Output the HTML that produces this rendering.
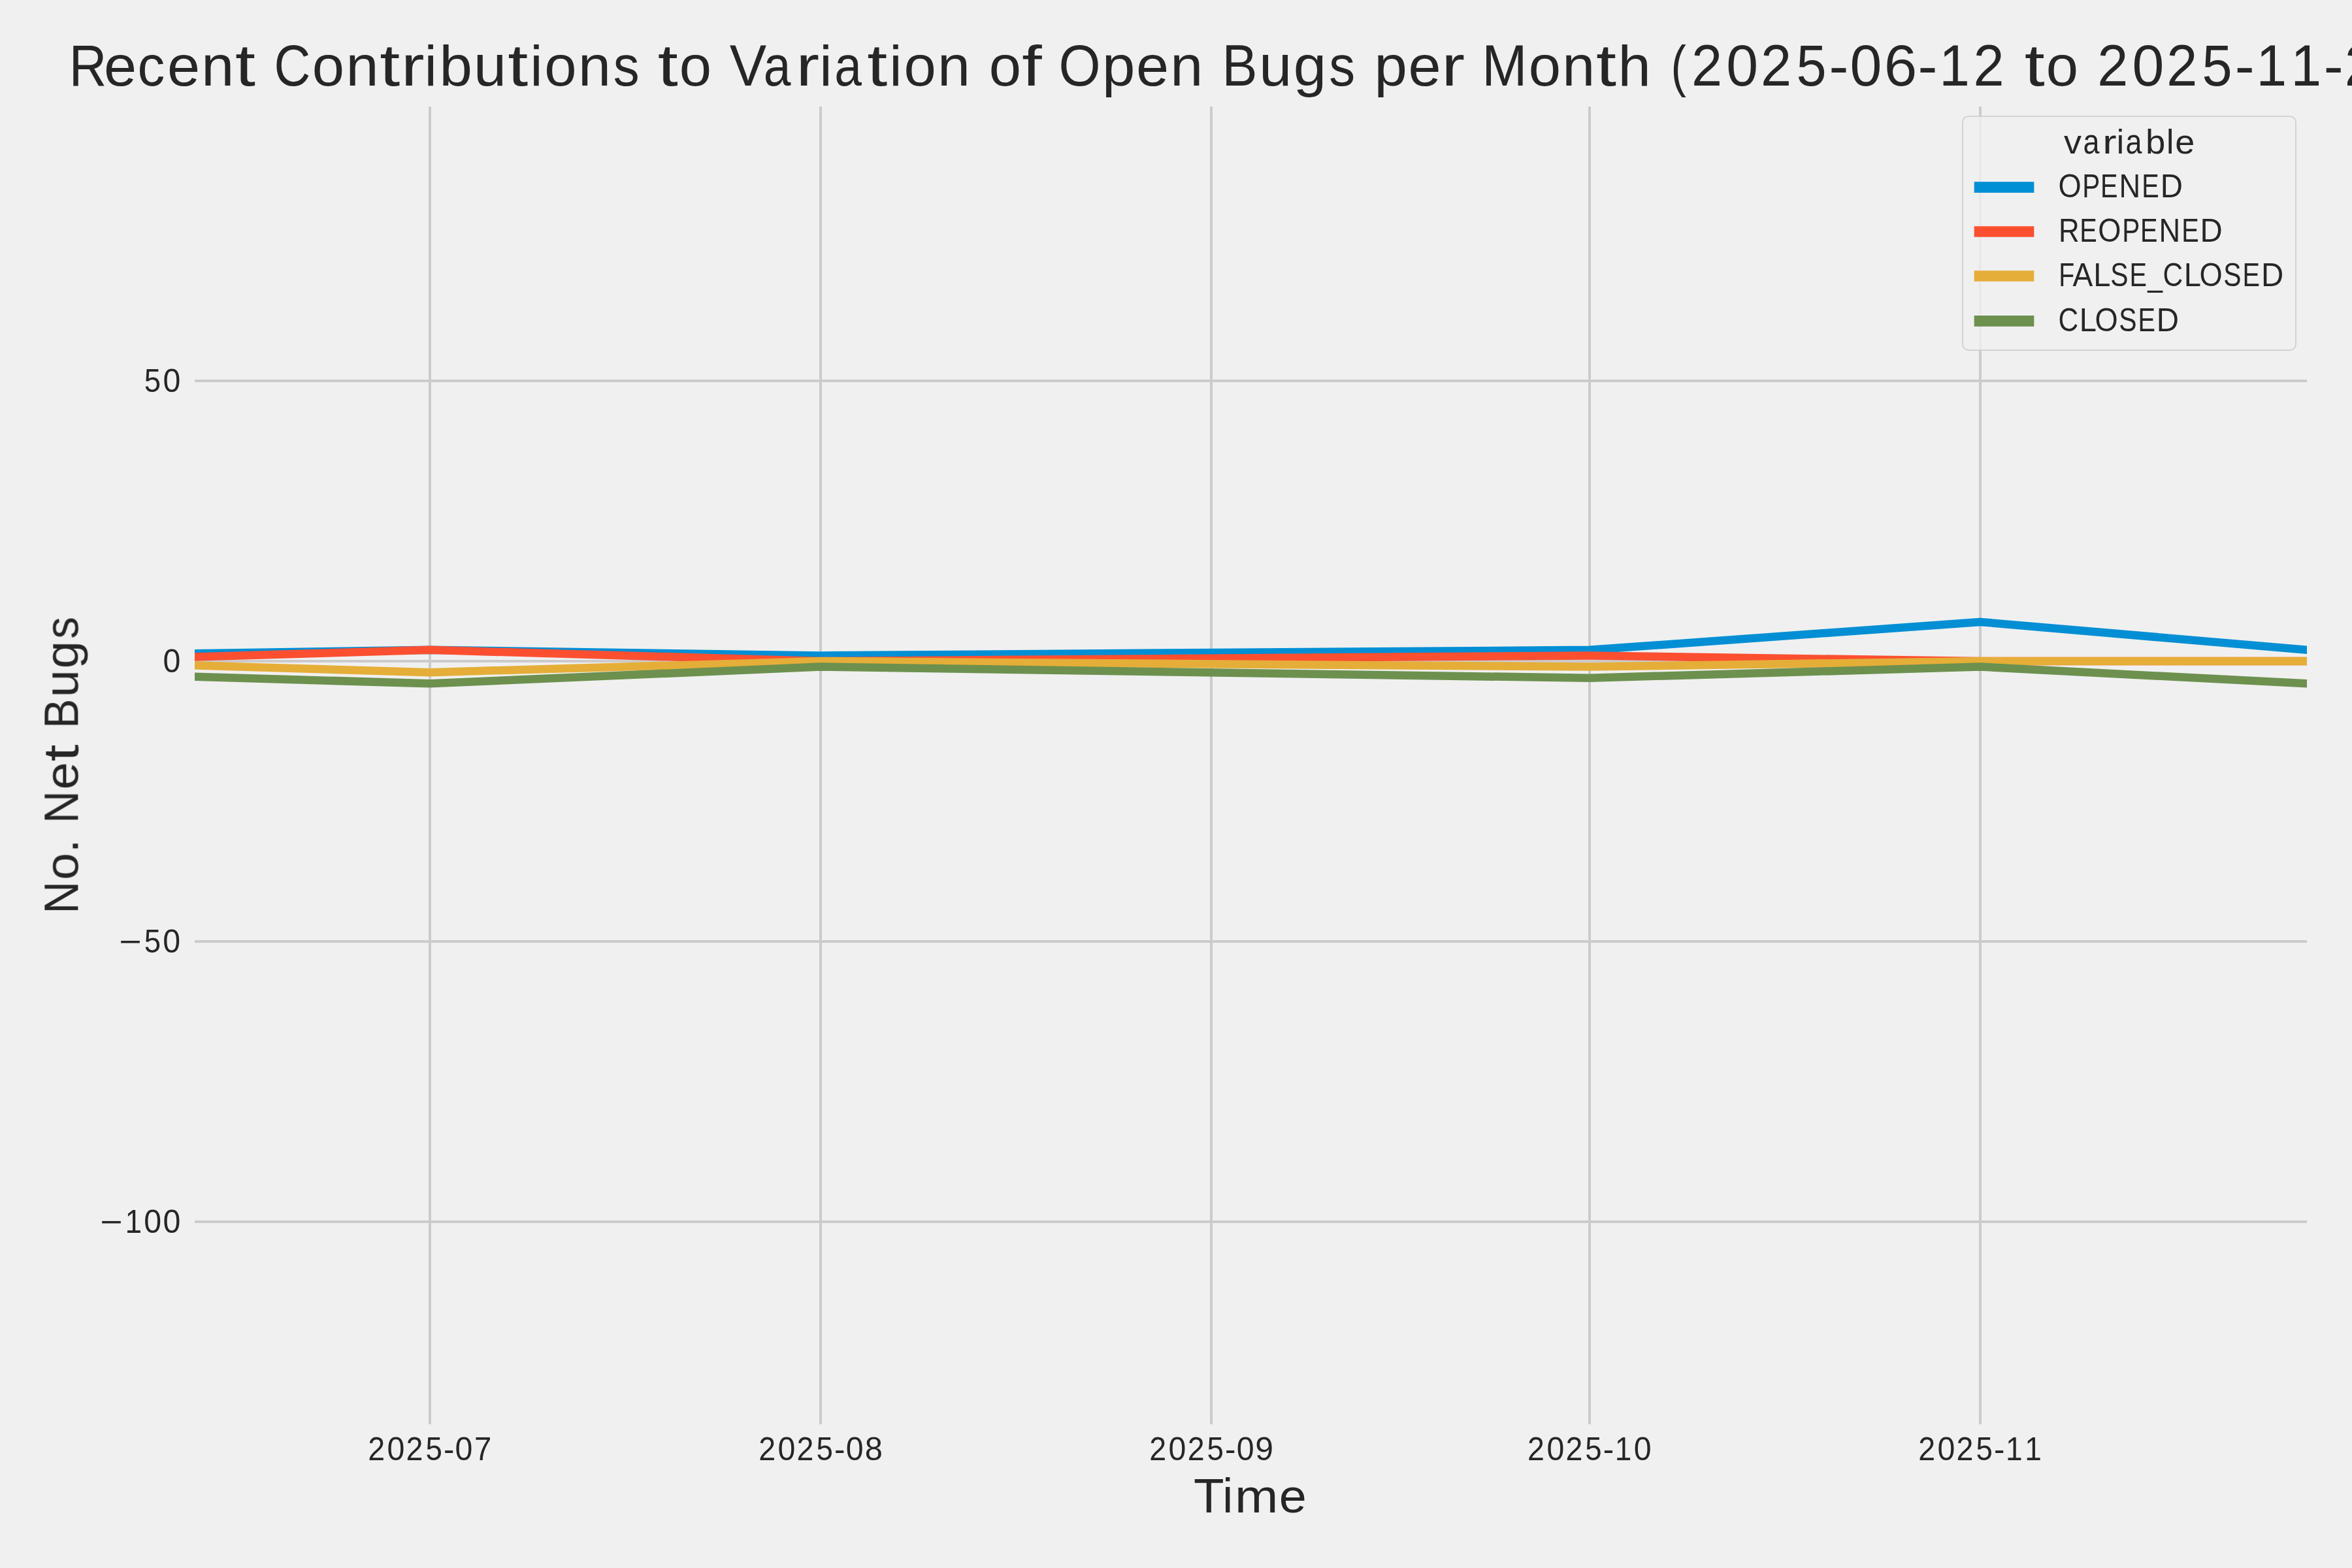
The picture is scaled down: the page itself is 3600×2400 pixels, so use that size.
<!DOCTYPE html>
<html><head><meta charset="utf-8"><title>Recent Contributions to Variation of Open Bugs per Month</title><style>html,body{margin:0;padding:0;background:#f0f0f0;overflow:hidden;width:3600px;height:2400px}svg{display:block}text{will-change:transform}</style></head><body>
<svg width="3600" height="2400" viewBox="0 0 3600 2400"><rect x="0" y="0" width="3600" height="2400" fill="#f0f0f0"/>
<g fill="#cbcbcb"><rect x="656" y="163" width="4" height="2017"/><rect x="1254" y="163" width="4" height="2017"/><rect x="1852" y="163" width="4" height="2017"/><rect x="2431" y="163" width="4" height="2017"/><rect x="3029" y="163" width="4" height="2017"/><rect x="298" y="1868" width="3233" height="4"/><rect x="298" y="1439" width="3233" height="4"/><rect x="298" y="1010" width="3233" height="4"/><rect x="298" y="581" width="3233" height="4"/></g>
<clipPath id="ac"><rect x="298" y="163" width="3233" height="2017"/></clipPath>
<g clip-path="url(#ac)"><polyline points="79.22,1003.42 658.00,994.84 1256.07,1003.42 2432.93,994.84 3031.00,951.94 3531.00,994.84" fill="none" stroke="#008fd5" stroke-width="12.500" stroke-linejoin="round" stroke-linecap="square"/><polyline points="79.22,1012.00 658.00,994.84 1256.07,1012.00 2432.93,1003.42 3031.00,1012.00 3531.00,1012.00" fill="none" stroke="#fc4f30" stroke-width="12.500" stroke-linejoin="round" stroke-linecap="square"/><polyline points="79.22,1012.00 658.00,1029.16 1256.07,1012.00 2432.93,1020.58 3031.00,1012.00 3531.00,1012.00" fill="none" stroke="#e5ae38" stroke-width="12.500" stroke-linejoin="round" stroke-linecap="square"/><polyline points="79.22,1029.16 658.00,1046.32 1256.07,1020.58 2432.93,1037.74 3031.00,1020.58 3531.00,1046.32" fill="none" stroke="#6d904f" stroke-width="12.500" stroke-linejoin="round" stroke-linecap="square"/></g>
<g font-family="'Liberation Sans', sans-serif"><g transform="translate(104.00 131.00)" fill="#262626"><text transform="translate(31.84 0) scale(0.903 1)" x="-33.46" font-size="88.30">R</text><text transform="translate(79.90 0) scale(1.038 1)" x="-24.03" font-size="86.74">e</text><text transform="translate(128.10 0) scale(0.964 1)" x="-22.38" font-size="86.74">c</text><text transform="translate(177.03 0) scale(1.038 1)" x="-24.03" font-size="86.74">e</text><text transform="translate(229.26 0) scale(1.036 1)" x="-24.18" font-size="86.74">n</text><text transform="translate(271.91 0) scale(1.231 1)" x="-12.93" font-size="90.51">t</text><text transform="translate(343.82 0) scale(0.873 1)" x="-32.55" font-size="88.58">C</text><text transform="translate(398.38 0) scale(1.021 1)" x="-24.12" font-size="86.74">o</text><text transform="translate(450.52 0) scale(1.036 1)" x="-24.18" font-size="86.74">n</text><text transform="translate(493.17 0) scale(1.231 1)" x="-12.93" font-size="90.51">t</text><text transform="translate(530.32 0) scale(1.231 1)" x="-16.60" font-size="86.74">r</text><text transform="translate(555.28 0) scale(0.975 1)" x="-9.68" font-size="87.38">i</text><text transform="translate(594.80 0) scale(1.038 1)" x="-25.28" font-size="87.38">b</text><text transform="translate(645.93 0) scale(1.017 1)" x="-24.50" font-size="88.34">u</text><text transform="translate(689.07 0) scale(1.231 1)" x="-12.93" font-size="90.51">t</text><text transform="translate(716.90 0) scale(0.975 1)" x="-9.68" font-size="87.38">i</text><text transform="translate(753.98 0) scale(1.021 1)" x="-24.12" font-size="86.74">o</text><text transform="translate(806.13 0) scale(1.036 1)" x="-24.18" font-size="86.74">n</text><text transform="translate(854.25 0) scale(0.918 1)" x="-21.38" font-size="86.97">s</text><text transform="translate(918.72 0) scale(1.231 1)" x="-12.93" font-size="90.51">t</text><text transform="translate(960.46 0) scale(1.021 1)" x="-24.12" font-size="86.74">o</text><text transform="translate(1040.95 0) scale(0.958 1)" x="-29.45" font-size="88.30">V</text><text transform="translate(1087.25 0) scale(0.864 1)" x="-25.96" font-size="86.74">a</text><text transform="translate(1135.01 0) scale(1.231 1)" x="-16.60" font-size="86.74">r</text><text transform="translate(1159.97 0) scale(0.975 1)" x="-9.68" font-size="87.38">i</text><text transform="translate(1195.78 0) scale(0.864 1)" x="-25.96" font-size="86.74">a</text><text transform="translate(1239.08 0) scale(1.231 1)" x="-12.93" font-size="90.51">t</text><text transform="translate(1266.91 0) scale(0.975 1)" x="-9.68" font-size="87.38">i</text><text transform="translate(1303.99 0) scale(1.021 1)" x="-24.12" font-size="86.74">o</text><text transform="translate(1356.14 0) scale(1.036 1)" x="-24.18" font-size="86.74">n</text><text transform="translate(1434.35 0) scale(1.021 1)" x="-24.12" font-size="86.74">o</text><text transform="translate(1476.26 0) scale(1.251 1)" x="-12.84" font-size="87.49">f</text><text transform="translate(1548.50 0) scale(0.930 1)" x="-34.43" font-size="88.58">O</text><text transform="translate(1609.28 0) scale(1.044 1)" x="-25.12" font-size="86.82">p</text><text transform="translate(1659.96 0) scale(1.038 1)" x="-24.03" font-size="86.74">e</text><text transform="translate(1712.20 0) scale(1.036 1)" x="-24.18" font-size="86.74">n</text><text transform="translate(1794.61 0) scale(0.917 1)" x="-30.74" font-size="88.30">B</text><text transform="translate(1848.25 0) scale(1.017 1)" x="-24.50" font-size="88.34">u</text><text transform="translate(1899.89 0) scale(1.041 1)" x="-23.21" font-size="86.97">g</text><text transform="translate(1949.78 0) scale(0.918 1)" x="-21.38" font-size="86.97">s</text><text transform="translate(2025.75 0) scale(1.044 1)" x="-25.12" font-size="86.82">p</text><text transform="translate(2076.43 0) scale(1.038 1)" x="-24.03" font-size="86.74">e</text><text transform="translate(2122.93 0) scale(1.231 1)" x="-16.60" font-size="86.74">r</text><text transform="translate(2198.76 0) scale(0.941 1)" x="-36.78" font-size="88.30">M</text><text transform="translate(2260.24 0) scale(1.021 1)" x="-24.12" font-size="86.74">o</text><text transform="translate(2312.39 0) scale(1.036 1)" x="-24.18" font-size="86.74">n</text><text transform="translate(2355.04 0) scale(1.231 1)" x="-12.93" font-size="90.51">t</text><text transform="translate(2397.92 0) scale(1.035 1)" x="-24.49" font-size="87.38">h</text><text transform="translate(2467.12 0) scale(0.807 1)" x="-16.98" font-size="87.26">(</text><text transform="translate(2508.53 0) scale(0.956 1)" x="-24.63" font-size="88.58">2</text><text transform="translate(2562.68 0) scale(0.992 1)" x="-24.63" font-size="88.58">0</text><text transform="translate(2614.62 0) scale(0.956 1)" x="-24.63" font-size="88.58">2</text><text transform="translate(2668.36 0) scale(0.939 1)" x="-24.47" font-size="88.30">5</text><text transform="translate(2710.36 0) scale(1.022 1)" x="-14.64" font-size="87.90">-</text><text transform="translate(2751.90 0) scale(0.992 1)" x="-24.63" font-size="88.58">0</text><text transform="translate(2805.25 0) scale(1.026 1)" x="-24.93" font-size="88.58">6</text><text transform="translate(2846.54 0) scale(1.022 1)" x="-14.64" font-size="87.90">-</text><text transform="translate(2888.83 0) scale(0.950 1)" x="-25.76" font-size="88.30">1</text><text transform="translate(2940.02 0) scale(0.956 1)" x="-24.63" font-size="88.58">2</text><text transform="translate(3010.64 0) scale(1.231 1)" x="-12.93" font-size="90.51">t</text><text transform="translate(3052.38 0) scale(1.021 1)" x="-24.12" font-size="86.74">o</text><text transform="translate(3129.77 0) scale(0.956 1)" x="-24.63" font-size="88.58">2</text><text transform="translate(3183.92 0) scale(0.992 1)" x="-24.63" font-size="88.58">0</text><text transform="translate(3235.87 0) scale(0.956 1)" x="-24.63" font-size="88.58">2</text><text transform="translate(3289.60 0) scale(0.939 1)" x="-24.47" font-size="88.30">5</text><text transform="translate(3331.60 0) scale(1.022 1)" x="-14.64" font-size="87.90">-</text><text transform="translate(3373.89 0) scale(0.950 1)" x="-25.76" font-size="88.30">1</text><text transform="translate(3426.94 0) scale(0.950 1)" x="-25.76" font-size="88.30">1</text><text transform="translate(3467.78 0) scale(1.022 1)" x="-14.64" font-size="87.90">-</text><text transform="translate(3508.22 0) scale(0.956 1)" x="-24.63" font-size="88.58">2</text><text transform="translate(3562.24 0) scale(0.973 1)" x="-24.60" font-size="88.30">7</text><text transform="translate(3604.93 0) scale(0.807 1)" x="-12.08" font-size="87.26">)</text></g><g transform="translate(1828.81 2315.25)" fill="#262626"><text transform="translate(21.38 0) scale(1.029 1)" x="-22.64" font-size="74.17">T</text><text transform="translate(50.38 0) scale(0.975 1)" x="-8.14" font-size="73.40">i</text><text transform="translate(94.38 0) scale(1.095 1)" x="-30.36" font-size="72.86">m</text><text transform="translate(149.87 0) scale(1.038 1)" x="-20.19" font-size="72.86">e</text></g><g transform="translate(119.38 1399.94) rotate(-90)" fill="#262626"><text transform="translate(26.18 0) scale(0.932 1)" x="-26.80" font-size="74.17">N</text><text transform="translate(73.79 0) scale(1.021 1)" x="-20.26" font-size="72.86">o</text><text transform="translate(105.03 0) scale(1.025 1)" x="-10.27" font-size="73.91">.</text><text transform="translate(164.62 0) scale(0.932 1)" x="-26.80" font-size="74.17">N</text><text transform="translate(212.41 0) scale(1.038 1)" x="-20.19" font-size="72.86">e</text><text transform="translate(247.70 0) scale(1.231 1)" x="-10.86" font-size="76.03">t</text><text transform="translate(308.54 0) scale(0.917 1)" x="-25.82" font-size="74.17">B</text><text transform="translate(353.57 0) scale(1.017 1)" x="-20.58" font-size="74.21">u</text><text transform="translate(396.93 0) scale(1.041 1)" x="-19.50" font-size="73.06">g</text><text transform="translate(438.81 0) scale(0.918 1)" x="-17.96" font-size="73.06">s</text></g><g transform="translate(562.12 2234.88)" fill="#262626"><text transform="translate(13.96 0) scale(0.945 1)" x="-13.71" font-size="49.30">2</text><text transform="translate(43.76 0) scale(0.980 1)" x="-13.71" font-size="49.30">0</text><text transform="translate(72.34 0) scale(0.945 1)" x="-13.71" font-size="49.30">2</text><text transform="translate(101.91 0) scale(0.928 1)" x="-13.62" font-size="49.15">5</text><text transform="translate(125.02 0) scale(1.003 1)" x="-8.20" font-size="49.25">-</text><text transform="translate(147.87 0) scale(0.980 1)" x="-13.71" font-size="49.30">0</text><text transform="translate(176.99 0) scale(0.962 1)" x="-13.69" font-size="49.15">7</text></g><g transform="translate(1160.20 2234.88)" fill="#262626"><text transform="translate(13.96 0) scale(0.945 1)" x="-13.71" font-size="49.30">2</text><text transform="translate(43.76 0) scale(0.980 1)" x="-13.71" font-size="49.30">0</text><text transform="translate(72.34 0) scale(0.945 1)" x="-13.71" font-size="49.30">2</text><text transform="translate(101.91 0) scale(0.928 1)" x="-13.62" font-size="49.15">5</text><text transform="translate(125.02 0) scale(1.003 1)" x="-8.20" font-size="49.28">-</text><text transform="translate(147.87 0) scale(0.980 1)" x="-13.71" font-size="49.30">0</text><text transform="translate(177.06 0) scale(0.991 1)" x="-13.71" font-size="49.30">8</text></g><g transform="translate(1758.27 2234.88)" fill="#262626"><text transform="translate(13.96 0) scale(0.945 1)" x="-13.71" font-size="49.30">2</text><text transform="translate(43.76 0) scale(0.980 1)" x="-13.71" font-size="49.30">0</text><text transform="translate(72.34 0) scale(0.945 1)" x="-13.71" font-size="49.30">2</text><text transform="translate(101.91 0) scale(0.928 1)" x="-13.62" font-size="49.15">5</text><text transform="translate(125.02 0) scale(1.003 1)" x="-8.20" font-size="49.28">-</text><text transform="translate(147.87 0) scale(0.980 1)" x="-13.71" font-size="49.30">0</text><text transform="translate(176.90 0) scale(1.012 1)" x="-13.70" font-size="49.30">9</text></g><g transform="translate(2337.05 2234.88)" fill="#262626"><text transform="translate(13.96 0) scale(0.945 1)" x="-13.71" font-size="49.30">2</text><text transform="translate(43.76 0) scale(0.980 1)" x="-13.71" font-size="49.30">0</text><text transform="translate(72.34 0) scale(0.945 1)" x="-13.71" font-size="49.30">2</text><text transform="translate(101.91 0) scale(0.928 1)" x="-13.62" font-size="49.15">5</text><text transform="translate(125.02 0) scale(1.003 1)" x="-8.20" font-size="49.25">-</text><text transform="translate(148.28 0) scale(0.939 1)" x="-14.34" font-size="49.15">1</text><text transform="translate(177.06 0) scale(0.980 1)" x="-13.71" font-size="49.30">0</text></g><g transform="translate(2935.12 2234.88)" fill="#262626"><text transform="translate(13.96 0) scale(0.945 1)" x="-13.71" font-size="49.30">2</text><text transform="translate(43.76 0) scale(0.980 1)" x="-13.71" font-size="49.30">0</text><text transform="translate(72.34 0) scale(0.945 1)" x="-13.71" font-size="49.30">2</text><text transform="translate(101.91 0) scale(0.928 1)" x="-13.62" font-size="49.15">5</text><text transform="translate(125.02 0) scale(1.004 1)" x="-8.20" font-size="49.23">-</text><text transform="translate(148.28 0) scale(0.939 1)" x="-14.34" font-size="49.15">1</text><text transform="translate(177.47 0) scale(0.939 1)" x="-14.34" font-size="49.15">1</text></g><g transform="translate(151.54 1886.80)" fill="#262626"><text transform="translate(19.20 0) scale(1.199 1)" x="-14.39" font-size="49.25">−</text><text transform="translate(53.42 0) scale(0.939 1)" x="-14.34" font-size="49.15">1</text><text transform="translate(82.19 0) scale(0.980 1)" x="-13.71" font-size="49.30">0</text><text transform="translate(111.38 0) scale(0.980 1)" x="-13.71" font-size="49.30">0</text></g><g transform="translate(180.54 1457.80)" fill="#262626"><text transform="translate(19.20 0) scale(1.200 1)" x="-14.39" font-size="49.23">−</text><text transform="translate(52.78 0) scale(0.928 1)" x="-13.62" font-size="49.15">5</text><text transform="translate(82.19 0) scale(0.980 1)" x="-13.71" font-size="49.30">0</text></g><g transform="translate(248.29 1028.80)" fill="#262626"><text transform="translate(14.57 0) scale(0.980 1)" x="-13.71" font-size="49.30">0</text></g><g transform="translate(219.04 599.80)" fill="#262626"><text transform="translate(14.35 0) scale(0.928 1)" x="-13.62" font-size="49.15">5</text><text transform="translate(43.76 0) scale(0.980 1)" x="-13.71" font-size="49.30">0</text></g></g>
<rect x="3004" y="178" width="510" height="358" rx="9.17" fill="#f0f0f0" fill-opacity="0.8" stroke="#cccccc" stroke-opacity="0.8" stroke-width="2"/>
<line x1="3021.67" y1="286.62" x2="3113.33" y2="286.62" stroke="#008fd5" stroke-width="16.667"/><line x1="3021.67" y1="354.54" x2="3113.33" y2="354.54" stroke="#fc4f30" stroke-width="16.667"/><line x1="3021.67" y1="422.46" x2="3113.33" y2="422.46" stroke="#e5ae38" stroke-width="16.667"/><line x1="3021.67" y1="491.37" x2="3113.33" y2="491.37" stroke="#6d904f" stroke-width="16.667"/>
<g font-family="'Liberation Sans', sans-serif"><g transform="translate(3157.71 234.75)" fill="#262626"><text transform="translate(14.79 0) scale(1.043 1)" x="-12.94" font-size="51.76">v</text><text transform="translate(44.14 0) scale(0.864 1)" x="-15.58" font-size="52.04">a</text><text transform="translate(72.78 0) scale(1.231 1)" x="-9.96" font-size="52.04">r</text><text transform="translate(87.74 0) scale(0.975 1)" x="-5.81" font-size="52.43">i</text><text transform="translate(109.23 0) scale(0.864 1)" x="-15.58" font-size="52.04">a</text><text transform="translate(142.09 0) scale(1.038 1)" x="-15.17" font-size="52.43">b</text><text transform="translate(164.01 0) scale(0.975 1)" x="-5.84" font-size="52.43">l</text><text transform="translate(186.38 0) scale(1.038 1)" x="-14.42" font-size="52.04">e</text></g><g transform="translate(3150.00 301.97)" fill="#262626"><text transform="translate(18.04 0) scale(0.919 1)" x="-19.16" font-size="49.30">O</text><text transform="translate(51.39 0) scale(0.825 1)" x="-17.11" font-size="49.15">P</text><text transform="translate(79.04 0) scale(0.808 1)" x="-17.35" font-size="49.15">E</text><text transform="translate(109.90 0) scale(0.921 1)" x="-17.76" font-size="49.15">N</text><text transform="translate(142.34 0) scale(0.808 1)" x="-17.35" font-size="49.15">E</text><text transform="translate(174.60 0) scale(0.965 1)" x="-18.59" font-size="49.15">D</text></g><g transform="translate(3150.00 369.88)" fill="#262626"><text transform="translate(17.51 0) scale(0.892 1)" x="-18.62" font-size="49.15">R</text><text transform="translate(47.14 0) scale(0.808 1)" x="-17.35" font-size="49.15">E</text><text transform="translate(78.90 0) scale(0.919 1)" x="-19.16" font-size="49.30">O</text><text transform="translate(112.25 0) scale(0.825 1)" x="-17.11" font-size="49.15">P</text><text transform="translate(139.90 0) scale(0.808 1)" x="-17.35" font-size="49.15">E</text><text transform="translate(170.76 0) scale(0.921 1)" x="-17.76" font-size="49.15">N</text><text transform="translate(203.20 0) scale(0.808 1)" x="-17.35" font-size="49.15">E</text><text transform="translate(235.46 0) scale(0.965 1)" x="-18.59" font-size="49.15">D</text></g><g transform="translate(3150.00 437.80)" fill="#262626"><text transform="translate(14.10 0) scale(0.799 1)" x="-16.04" font-size="49.15">F</text><text transform="translate(37.80 0) scale(0.939 1)" x="-16.39" font-size="49.15">A</text><text transform="translate(68.41 0) scale(0.959 1)" x="-14.87" font-size="49.15">L</text><text transform="translate(93.86 0) scale(0.829 1)" x="-16.43" font-size="49.30">S</text><text transform="translate(123.46 0) scale(0.808 1)" x="-17.35" font-size="49.15">E</text><text transform="translate(148.64 0) scale(0.831 1)" x="-13.59" font-size="49.21">_</text><text transform="translate(176.17 0) scale(0.863 1)" x="-18.12" font-size="49.30">C</text><text transform="translate(207.05 0) scale(0.959 1)" x="-14.87" font-size="49.15">L</text><text transform="translate(234.12 0) scale(0.919 1)" x="-19.16" font-size="49.30">O</text><text transform="translate(266.98 0) scale(0.829 1)" x="-16.43" font-size="49.30">S</text><text transform="translate(296.58 0) scale(0.808 1)" x="-17.35" font-size="49.15">E</text><text transform="translate(328.84 0) scale(0.965 1)" x="-18.59" font-size="49.15">D</text></g><g transform="translate(3150.00 506.72)" fill="#262626"><text transform="translate(16.05 0) scale(0.863 1)" x="-18.12" font-size="49.30">C</text><text transform="translate(46.93 0) scale(0.959 1)" x="-14.87" font-size="49.15">L</text><text transform="translate(74.00 0) scale(0.919 1)" x="-19.16" font-size="49.30">O</text><text transform="translate(106.86 0) scale(0.829 1)" x="-16.43" font-size="49.30">S</text><text transform="translate(136.46 0) scale(0.808 1)" x="-17.35" font-size="49.15">E</text><text transform="translate(168.72 0) scale(0.965 1)" x="-18.59" font-size="49.15">D</text></g></g></svg>
</body></html>
